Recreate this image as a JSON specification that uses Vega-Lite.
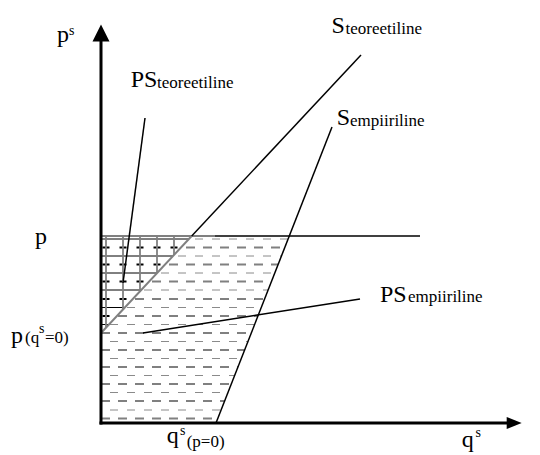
{
  "$schema": "https://vega.github.io/schema/vega-lite/v6.json",
  "width": 540,
  "height": 455,
  "autosize": "none",
  "padding": 0,
  "background": "white",
  "config": {"view": {"stroke": null}},
  "datasets": {
    "rows": [
      {"q0": 0, "p": 184, "qe": 187.1, "qt": 87.9, "kind": "thin"},
      {"q0": 0, "p": 175.5, "qe": 183.8, "qt": 80.0, "kind": "thick"},
      {"q0": 0, "p": 167, "qe": 180.5, "qt": 72.0, "kind": "thin"},
      {"q0": 0, "p": 158.5, "qe": 177.1, "qt": 64.1, "kind": "thick"},
      {"q0": 0, "p": 150, "qe": 173.8, "qt": 56.1, "kind": "thin"},
      {"q0": 0, "p": 141.5, "qe": 170.5, "qt": 48.2, "kind": "thick"},
      {"q0": 0, "p": 133, "qe": 167.1, "qt": 40.2, "kind": "thin"},
      {"q0": 0, "p": 124, "qe": 163.6, "qt": 31.8, "kind": "thick"},
      {"q0": 0, "p": 115.5, "qe": 160.3, "qt": 23.9, "kind": "thin"},
      {"q0": 0, "p": 107, "qe": 156.9, "qt": 15.9, "kind": "thick"},
      {"q0": 0, "p": 98.5, "qe": 153.6, "qt": 8.0, "kind": "thin"},
      {"q0": 0, "p": 90, "qe": 150.3, "qt": 0, "kind": "thick"},
      {"q0": 0, "p": 81.5, "qe": 146.9, "qt": 0, "kind": "thin"},
      {"q0": 0, "p": 73, "qe": 143.6, "qt": 0, "kind": "thick"},
      {"q0": 0, "p": 64.5, "qe": 140.3, "qt": 0, "kind": "thin"},
      {"q0": 0, "p": 56, "qe": 137.0, "qt": 0, "kind": "thick"},
      {"q0": 0, "p": 47.5, "qe": 133.6, "qt": 0, "kind": "thin"},
      {"q0": 0, "p": 39, "qe": 130.3, "qt": 0, "kind": "thick"},
      {"q0": 0, "p": 30.5, "qe": 127.0, "qt": 0, "kind": "thin"},
      {"q0": 0, "p": 22, "qe": 123.6, "qt": 0, "kind": "thick"},
      {"q0": 0, "p": 13, "qe": 120.1, "qt": 0, "kind": "thin"},
      {"q0": 0, "p": 4.5, "qe": 116.8, "qt": 0, "kind": "thick"}
    ],
    "tri": [
      {"q": 0, "lo": 90, "hi": 187},
      {"q": 90.7, "lo": 187, "hi": 187}
    ],
    "verts": [
      {"q": 5, "pb": 95.3, "pt": 187},
      {"q": 22, "pb": 113.5, "pt": 187},
      {"q": 39, "pb": 131.7, "pt": 187},
      {"q": 56, "pb": 149.9, "pt": 187},
      {"q": 73, "pb": 168.0, "pt": 187}
    ],
    "segs": [
      {"name": "S teoreetiline", "kind": "black", "q1": 90.7, "p1": 187, "q2": 260, "p2": 368},
      {"name": "S empiiriline", "kind": "black", "q1": 115, "p1": 0, "q2": 231, "p2": 296},
      {"name": "p", "kind": "black", "q1": 114, "p1": 187, "q2": 319, "p2": 187},
      {"name": "PS teoreetiline pointer", "kind": "black", "q1": 44, "p1": 305, "q2": 22, "p2": 140},
      {"name": "PS empiiriline pointer", "kind": "black", "q1": 42, "p1": 90, "q2": 259, "p2": 124},
      {"name": "S teoreetiline low", "kind": "gray", "q1": 0, "p1": 90, "q2": 90.7, "p2": 187},
      {"name": "p border", "kind": "gray", "q1": 0, "p1": 187, "q2": 114, "p2": 187},
      {"name": "y axis", "kind": "axis", "q1": 0, "p1": 0, "q2": 0, "p2": 383},
      {"name": "x axis", "kind": "axis", "q1": 0, "p1": 0, "q2": 407, "p2": 0}
    ],
    "arrows": [
      {"dir": "up", "q": 0, "p": 390},
      {"dir": "right", "q": 413.2, "p": 0}
    ],
    "texts": [
      {"role": "main", "t": "p", "q": -44, "p": 381.5},
      {"role": "sup", "t": "s", "q": -32, "p": 388},
      {"role": "main", "t": "S", "q": 230.6, "p": 390},
      {"role": "sub", "t": "teoreetiline", "q": 244.5, "p": 389.5},
      {"role": "main", "t": "PS", "q": 29.7, "p": 336.3},
      {"role": "sub", "t": "teoreetiline", "q": 56, "p": 335.5},
      {"role": "main", "t": "S", "q": 235.7, "p": 298},
      {"role": "sub", "t": "empiiriline", "q": 249, "p": 297},
      {"role": "main", "t": "p", "q": -66, "p": 179},
      {"role": "main", "t": "p", "q": -90, "p": 80},
      {"role": "sub", "t": "(q", "q": -76, "p": 80},
      {"role": "sup", "t": "s", "q": -62, "p": 90},
      {"role": "sub", "t": "=0)", "q": -56, "p": 80},
      {"role": "main", "t": "PS", "q": 279, "p": 121.5},
      {"role": "sub", "t": "empiiriline", "q": 307, "p": 121},
      {"role": "main", "t": "q", "q": 65.7, "p": -20},
      {"role": "sup", "t": "s", "q": 79, "p": -12},
      {"role": "sub", "t": "(p=0)", "q": 85.7, "p": -24},
      {"role": "main", "t": "q", "q": 360.7, "p": -24},
      {"role": "sup", "t": "s", "q": 374.5, "p": -14}
    ]
  },
  "layer": [
    {
      "data": {"name": "rows"},
      "transform": [{"filter": "datum.kind === 'thick'"}],
      "mark": {"type": "rule", "color": "#808080", "strokeWidth": 2, "strokeDash": [9, 8]},
      "encoding": {
        "x": {"field": "q0", "type": "quantitative", "scale": {"domain": [-101, 439], "nice": false, "zero": false}, "axis": null},
        "x2": {"field": "qe"},
        "y": {"field": "p", "type": "quantitative", "scale": {"domain": [-32, 423], "nice": false, "zero": false}, "axis": null}
      }
    },
    {
      "data": {"name": "rows"},
      "transform": [{"filter": "datum.kind === 'thin'"}],
      "mark": {"type": "rule", "color": "#8a8a8a", "strokeWidth": 1, "strokeDash": [8, 9], "strokeDashOffset": 8},
      "encoding": {
        "x": {"field": "q0", "type": "quantitative", "scale": {"domain": [-101, 439], "nice": false, "zero": false}, "axis": null},
        "x2": {"field": "qe"},
        "y": {"field": "p", "type": "quantitative", "scale": {"domain": [-32, 423], "nice": false, "zero": false}, "axis": null}
      }
    },
    {
      "data": {"name": "tri"},
      "mark": {"type": "area", "color": "white", "opacity": 1},
      "encoding": {
        "x": {"field": "q", "type": "quantitative", "scale": {"domain": [-101, 439], "nice": false, "zero": false}, "axis": null},
        "y": {"field": "lo", "type": "quantitative", "scale": {"domain": [-32, 423], "nice": false, "zero": false}, "axis": null},
        "y2": {"field": "hi"}
      }
    },
    {
      "data": {"name": "rows"},
      "transform": [{"filter": "datum.kind === 'thin' && datum.qt > 0"}],
      "mark": {"type": "rule", "color": "black", "strokeWidth": 1},
      "encoding": {
        "x": {"field": "q0", "type": "quantitative", "scale": {"domain": [-101, 439], "nice": false, "zero": false}, "axis": null},
        "x2": {"field": "qt"},
        "y": {"field": "p", "type": "quantitative", "scale": {"domain": [-32, 423], "nice": false, "zero": false}, "axis": null}
      }
    },
    {
      "data": {"name": "rows"},
      "transform": [{"filter": "datum.kind === 'thick' && datum.qt > 0"}],
      "mark": {"type": "rule", "color": "black", "strokeWidth": 2, "strokeDash": [7, 10], "strokeDashOffset": 15.5},
      "encoding": {
        "x": {"field": "q0", "type": "quantitative", "scale": {"domain": [-101, 439], "nice": false, "zero": false}, "axis": null},
        "x2": {"field": "qt"},
        "y": {"field": "p", "type": "quantitative", "scale": {"domain": [-32, 423], "nice": false, "zero": false}, "axis": null}
      }
    },
    {
      "data": {"name": "verts"},
      "mark": {"type": "rule", "color": "#808080", "strokeWidth": 1.8},
      "encoding": {
        "x": {"field": "q", "type": "quantitative", "scale": {"domain": [-101, 439], "nice": false, "zero": false}, "axis": null},
        "y": {"field": "pb", "type": "quantitative", "scale": {"domain": [-32, 423], "nice": false, "zero": false}, "axis": null},
        "y2": {"field": "pt"}
      }
    },
    {
      "data": {"name": "segs"},
      "transform": [{"filter": "datum.kind === 'gray'"}],
      "mark": {"type": "rule", "color": "#808080", "strokeWidth": 2},
      "encoding": {
        "x": {"field": "q1", "type": "quantitative", "scale": {"domain": [-101, 439], "nice": false, "zero": false}, "axis": null},
        "x2": {"field": "q2"},
        "y": {"field": "p1", "type": "quantitative", "scale": {"domain": [-32, 423], "nice": false, "zero": false}, "axis": null},
        "y2": {"field": "p2"}
      }
    },
    {
      "data": {"name": "segs"},
      "transform": [{"filter": "datum.kind === 'black'"}],
      "mark": {"type": "rule", "color": "black", "strokeWidth": 1.5},
      "encoding": {
        "x": {"field": "q1", "type": "quantitative", "scale": {"domain": [-101, 439], "nice": false, "zero": false}, "axis": null},
        "x2": {"field": "q2"},
        "y": {"field": "p1", "type": "quantitative", "scale": {"domain": [-32, 423], "nice": false, "zero": false}, "axis": null},
        "y2": {"field": "p2"}
      }
    },
    {
      "data": {"name": "segs"},
      "transform": [{"filter": "datum.kind === 'axis'"}],
      "mark": {"type": "rule", "color": "black", "strokeWidth": 3, "strokeCap": "square"},
      "encoding": {
        "x": {"field": "q1", "type": "quantitative", "scale": {"domain": [-101, 439], "nice": false, "zero": false}, "axis": null},
        "x2": {"field": "q2"},
        "y": {"field": "p1", "type": "quantitative", "scale": {"domain": [-32, 423], "nice": false, "zero": false}, "axis": null},
        "y2": {"field": "p2"}
      }
    },
    {
      "data": {"name": "arrows"},
      "transform": [{"filter": "datum.dir === 'up'"}],
      "mark": {"type": "point", "shape": "M0,-1L-1,1L1,1Z", "size": 289, "filled": true, "color": "black", "opacity": 1},
      "encoding": {
        "x": {"field": "q", "type": "quantitative", "scale": {"domain": [-101, 439], "nice": false, "zero": false}, "axis": null},
        "y": {"field": "p", "type": "quantitative", "scale": {"domain": [-32, 423], "nice": false, "zero": false}, "axis": null}
      }
    },
    {
      "data": {"name": "arrows"},
      "transform": [{"filter": "datum.dir === 'right'"}],
      "mark": {"type": "point", "shape": "M1,0L-1,-0.8L-1,0.8Z", "size": 225, "filled": true, "color": "black", "opacity": 1},
      "encoding": {
        "x": {"field": "q", "type": "quantitative", "scale": {"domain": [-101, 439], "nice": false, "zero": false}, "axis": null},
        "y": {"field": "p", "type": "quantitative", "scale": {"domain": [-32, 423], "nice": false, "zero": false}, "axis": null}
      }
    },
    {
      "data": {"name": "texts"},
      "transform": [{"filter": "datum.role === 'main'"}],
      "mark": {"type": "text", "font": "Liberation Serif", "fontSize": 24, "align": "left", "baseline": "alphabetic", "color": "black"},
      "encoding": {
        "x": {"field": "q", "type": "quantitative", "scale": {"domain": [-101, 439], "nice": false, "zero": false}, "axis": null},
        "y": {"field": "p", "type": "quantitative", "scale": {"domain": [-32, 423], "nice": false, "zero": false}, "axis": null},
        "text": {"field": "t"}
      }
    },
    {
      "data": {"name": "texts"},
      "transform": [{"filter": "datum.role === 'sub'"}],
      "mark": {"type": "text", "font": "Liberation Serif", "fontSize": 17, "align": "left", "baseline": "alphabetic", "color": "black"},
      "encoding": {
        "x": {"field": "q", "type": "quantitative", "scale": {"domain": [-101, 439], "nice": false, "zero": false}, "axis": null},
        "y": {"field": "p", "type": "quantitative", "scale": {"domain": [-32, 423], "nice": false, "zero": false}, "axis": null},
        "text": {"field": "t"}
      }
    },
    {
      "data": {"name": "texts"},
      "transform": [{"filter": "datum.role === 'sup'"}],
      "mark": {"type": "text", "font": "Liberation Serif", "fontSize": 14, "align": "left", "baseline": "alphabetic", "color": "black"},
      "encoding": {
        "x": {"field": "q", "type": "quantitative", "scale": {"domain": [-101, 439], "nice": false, "zero": false}, "axis": null},
        "y": {"field": "p", "type": "quantitative", "scale": {"domain": [-32, 423], "nice": false, "zero": false}, "axis": null},
        "text": {"field": "t"}
      }
    }
  ]
}
